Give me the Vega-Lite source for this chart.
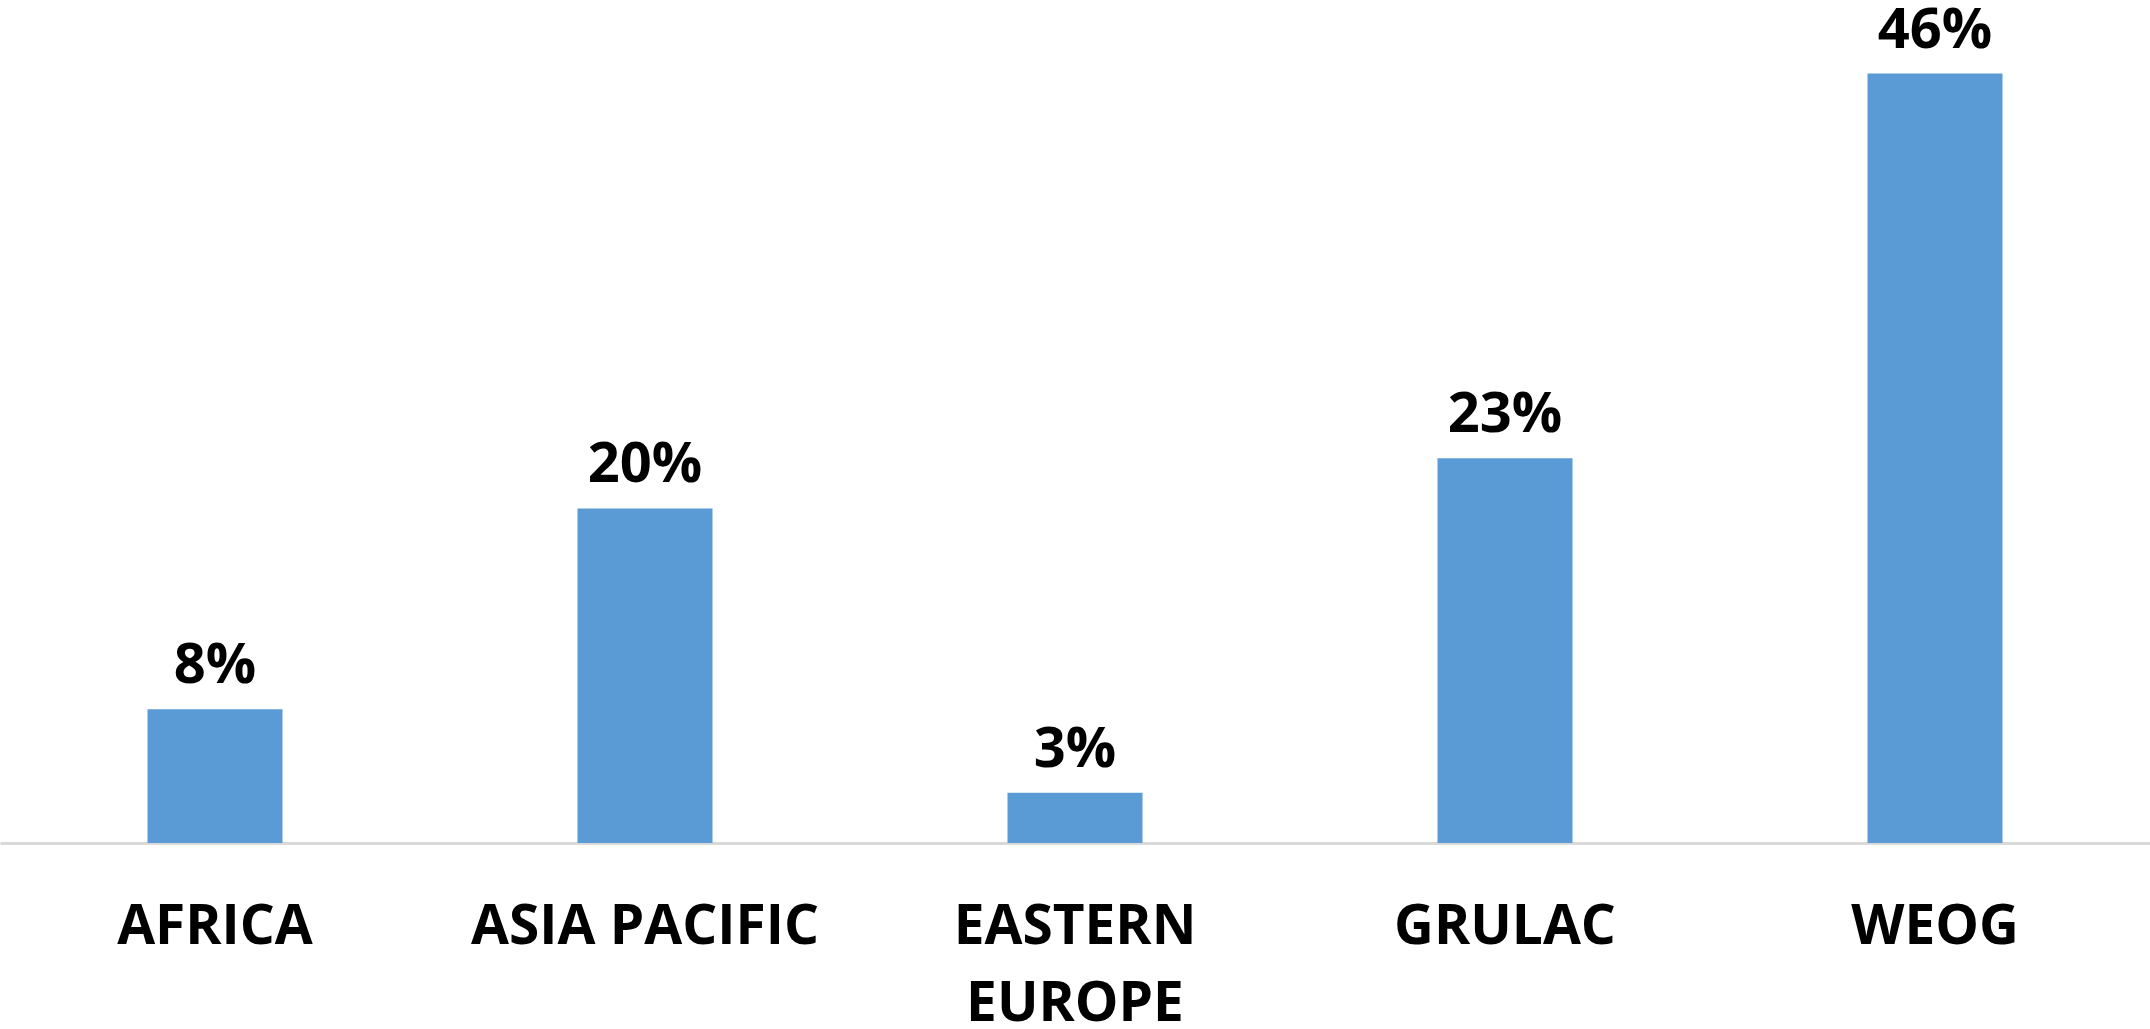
{
  "$schema": "https://vega.github.io/schema/vega-lite/v6.json",
  "width": 2150,
  "height": 843,
  "padding": {"left": 0, "right": 0, "top": 0, "bottom": 186},
  "autosize": {"type": "none"},
  "background": "white",
  "config": {"view": {"stroke": null}},
  "data": {"values": [
    {"region": "AFRICA", "share": 0.08},
    {"region": "ASIA PACIFIC", "share": 0.20},
    {"region": "EASTERN EUROPE", "share": 0.03},
    {"region": "GRULAC", "share": 0.23},
    {"region": "WEOG", "share": 0.46}
  ]},
  "encoding": {
    "x": {
      "field": "region", "type": "nominal", "sort": null,
      "scale": {"paddingInner": 0.686, "paddingOuter": 0.343},
      "axis": {
        "title": null, "ticks": false, "domain": true, "domainColor": "#d9d9d9", "domainWidth": 3,
        "labelAngle": 0, "labelFont": "Open Sans", "labelFontWeight": "bold", "labelFontSize": 55,
        "labelColor": "#000000", "labelBaseline": "alphabetic", "labelPadding": 100,
        "labelLineHeight": 77, "labelLimit": 0, "labelOverlap": false,
        "labelExpr": "datum.label == 'EASTERN EUROPE' ? ['EASTERN', 'EUROPE'] : datum.label"
      }
    },
    "y": {
      "field": "share", "type": "quantitative",
      "scale": {"domain": [0, 0.504], "nice": false, "zero": true},
      "axis": null
    }
  },
  "layer": [
    {"mark": {"type": "bar", "color": "#5b9bd5"}},
    {
      "mark": {"type": "text", "font": "Open Sans", "fontWeight": "bold", "fontSize": 56, "color": "#000000", "baseline": "alphabetic", "dy": -26},
      "encoding": {"text": {"field": "share", "type": "quantitative", "format": ".0%"}}
    }
  ]
}
